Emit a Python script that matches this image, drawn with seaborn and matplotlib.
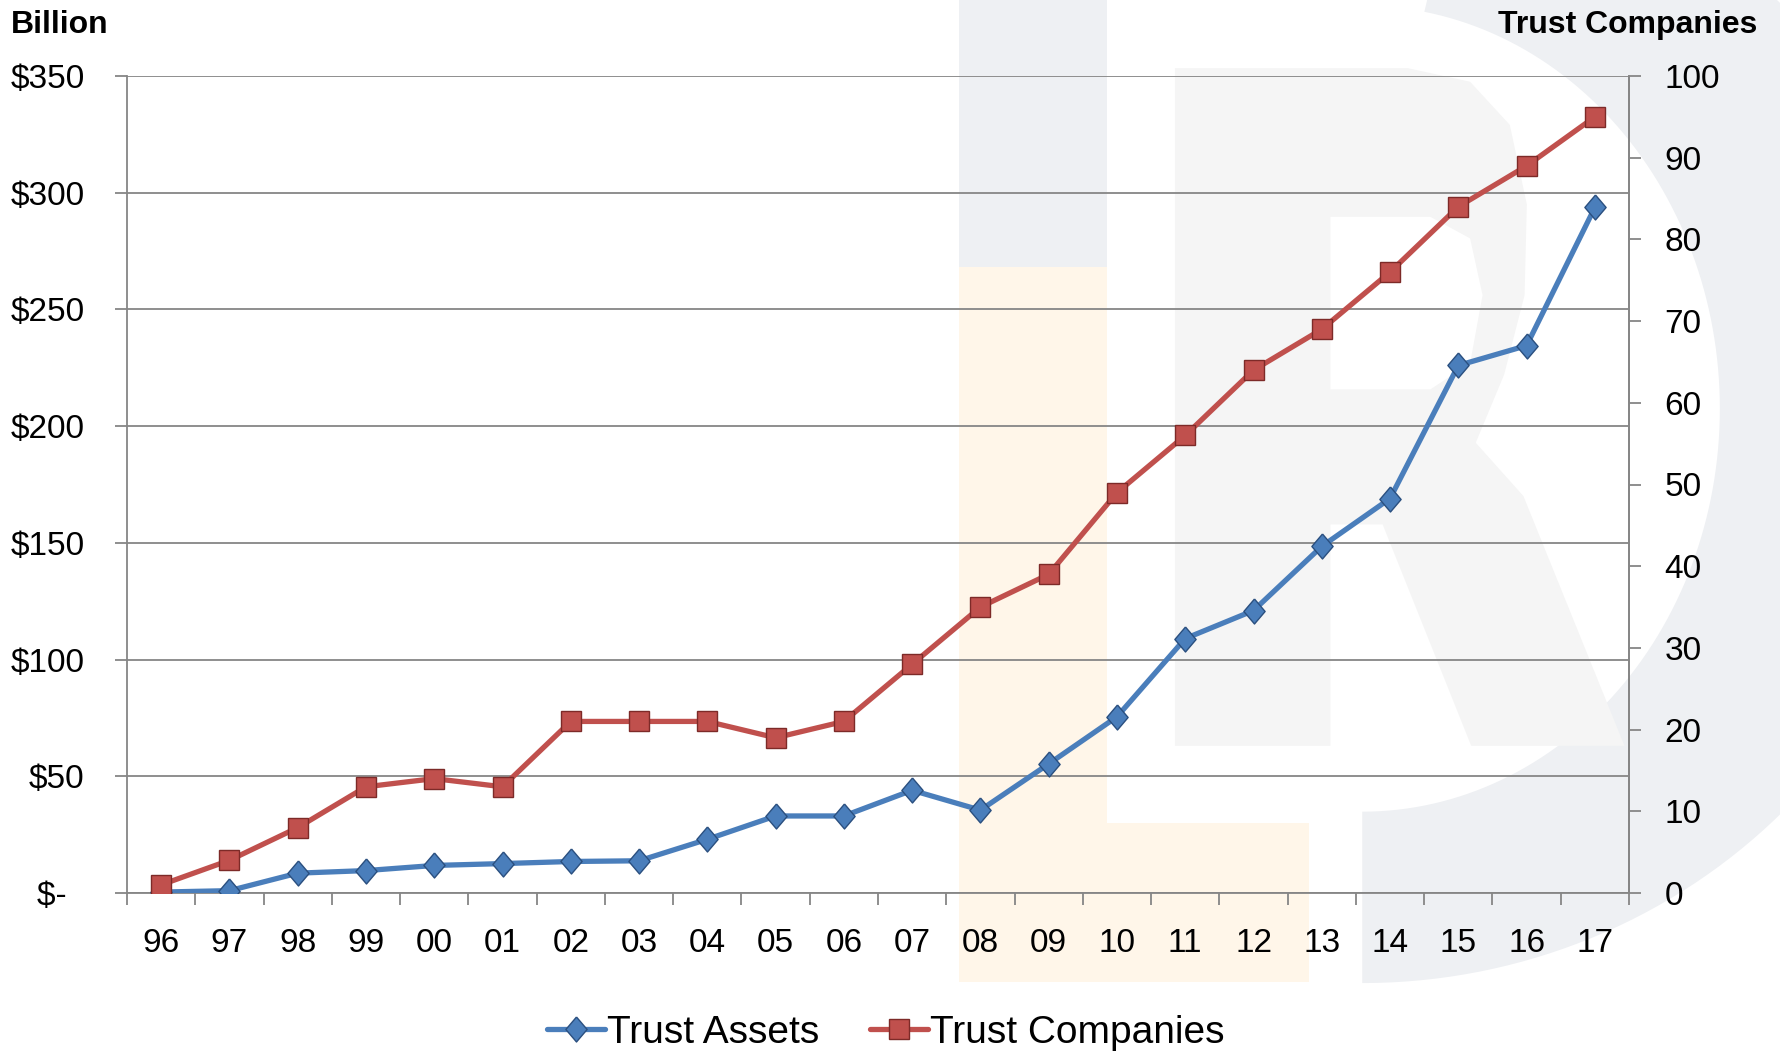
import numpy as np
import pandas as pd
import matplotlib
matplotlib.use("Agg")
import matplotlib.pyplot as plt
import seaborn as sns
from matplotlib.patches import Polygon
from matplotlib.lines import Line2D

# ---------------- data ----------------
years = ["96", "97", "98", "99", "00", "01", "02", "03", "04", "05", "06",
         "07", "08", "09", "10", "11", "12", "13", "14", "15", "16", "17"]
trust_assets = [0.4, 1.0, 8.5, 9.6, 11.8, 12.6, 13.5, 13.8, 23.0, 33.0, 33.0,
                44.0, 35.5, 55.3, 75.5, 109.0, 121.0, 148.5, 169.0, 226.0, 234.5, 293.7]
trust_companies = [1, 4, 8, 13, 14, 13, 21, 21, 21, 19, 21,
                   28, 35, 39, 49, 56, 64, 69, 76, 84, 89, 95]
left_ticks = [0, 50, 100, 150, 200, 250, 300, 350]
left_labels = ["$-  ", "$50", "$100", "$150", "$200", "$250", "$300", "$350"]
right_ticks = [0, 10, 20, 30, 40, 50, 60, 70, 80, 90, 100]
series_names = ["Trust Assets", "Trust Companies"]

df = pd.DataFrame({"year": years, "pos": np.arange(len(years)),
                   "assets": trust_assets, "companies": trust_companies})

# ---------------- style ----------------
sns.set_theme(style="white")
plt.rcParams["font.family"] = ["Liberation Sans", "DejaVu Sans"]
plt.rcParams["text.color"] = "black"
plt.rcParams["axes.labelcolor"] = "black"
plt.rcParams["xtick.color"] = "black"
plt.rcParams["ytick.color"] = "black"

W, H = 1780, 1052
fig = plt.figure(figsize=(W / 100, H / 100), dpi=100)
fig.patch.set_facecolor("white")

# ---------------- background watermark (decorative) ----------------
S = W / 1568.0
def P(x, y):
    return (x * S / 100.0, (H - y * S) / 100.0)

GRAY = "#eef0f3"
LGRAY = "#f5f5f5"
ORNG = "#fff6e9"
tr = fig.dpi_scale_trans

def poly(pts, color, z):
    fig.add_artist(Polygon([P(*p) for p in pts], closed=True, facecolor=color,
                           edgecolor="none", transform=tr, zorder=z))

# ring ("D" arc)
cx, cy = 1200, 360
th = np.linspace(-np.pi / 2, np.deg2rad(80), 120)
outer = [(cx + 520 * np.cos(t), cy - 506 * np.sin(t)) for t in th]
inner = [(cx + 315 * np.cos(t), cy - 355 * np.sin(t)) for t in th[::-1]]
poly(outer + inner, GRAY, -5)
# I bar (top gray part) and L (orange)
poly([(845, 0), (975, 0), (975, 235), (845, 235)], GRAY, -5)
poly([(845, 235), (975, 235), (975, 725), (1153, 725), (1153, 865), (845, 865)], ORNG, -5)
# R
poly([(1035, 60), (1240, 60), (1295, 72), (1330, 110), (1345, 180), (1343, 260),
      (1325, 330), (1300, 390), (1342, 437), (1431, 657), (1296, 657), (1218, 462),
      (1172, 462), (1172, 657), (1035, 657)], LGRAY, -4)
poly([(1172, 191), (1260, 191), (1295, 210), (1306, 260), (1295, 320),
      (1260, 343), (1172, 343)], "white", -3)

# ---------------- axes ----------------
left, right, top, bottom = 127, 1629, 76, 893
ax = fig.add_axes([left / W, 1 - bottom / H, (right - left) / W, (bottom - top) / H])
ax.set_facecolor("none")
ax.set_zorder(1)

GRID = "#868686"
BLUE = "#4a7ebb"
BLUE_E = "#2a4f7f"
RED = "#c0504d"
RED_E = "#7d2a28"

diamond = [(0, 1), (0.85, 0), (0, -1), (-0.85, 0), (0, 1)]

sns.lineplot(data=df, x="pos", y="assets", ax=ax, color=BLUE, linewidth=3.8,
             marker=diamond, markersize=18, markerfacecolor=BLUE,
             markeredgecolor=BLUE_E, markeredgewidth=1.0, legend=False, zorder=3)

ax.set_xlim(-0.5, len(years) - 0.5)
ax.set_ylim(0, 350)
ax.set_yticks(left_ticks)
ax.set_yticklabels(left_labels)
ax.set_xticks(np.arange(len(years) + 1) - 0.5)
ax.set_xticklabels([""] * (len(years) + 1))
ax.set_xticks(df["pos"], minor=True)
ax.set_xticklabels(years, minor=True)
ax.set_xlabel("")
ax.set_ylabel("")
ax.grid(axis="y", color=GRID, linewidth=1.3)
ax.grid(axis="x", visible=False)
ax.set_axisbelow(True)
for side in ["left", "bottom", "right"]:
    ax.spines[side].set_visible(True)
    ax.spines[side].set_color(GRID)
    ax.spines[side].set_linewidth(1.3)
ax.spines["top"].set_visible(False)

ax.tick_params(axis="y", which="major", left=True, length=8.5, width=1.3,
               color=GRID, labelsize=24, pad=22, labelcolor="black")
ax.tick_params(axis="x", which="major", bottom=True, length=8.5, width=1.3,
               color=GRID, direction="out")
ax.tick_params(axis="x", which="minor", bottom=True, length=0, labelsize=24,
               pad=25, labelcolor="black")

ax2 = ax.twinx()
ax2.set_facecolor("none")
sns.lineplot(data=df, x="pos", y="companies", ax=ax2, color=RED, linewidth=3.8,
             marker="s", markersize=15, markerfacecolor=RED,
             markeredgecolor=RED_E, markeredgewidth=1.0, legend=False, zorder=4)
ax2.set_ylim(0, 100)
ax2.set_yticks(right_ticks)
ax2.set_ylabel("")
ax2.grid(False)
for side in ["left", "bottom", "top"]:
    ax2.spines[side].set_visible(False)
ax2.spines["right"].set_color(GRID)
ax2.spines["right"].set_linewidth(1.3)
ax2.tick_params(axis="y", right=True, length=8.5, width=1.3, color=GRID,
                labelsize=24, pad=17, labelcolor="black")

# ---------------- titles ----------------
fig.text(11 / W, 1 - 33 / H, "Billion", ha="left", va="baseline",
         fontsize=23, fontweight="bold", color="black")
fig.text(1757 / W, 1 - 33 / H, "Trust Companies", ha="right", va="baseline",
         fontsize=23, fontweight="bold", color="black")

# ---------------- legend ----------------
h1 = Line2D([], [], color=BLUE, linewidth=3.8, marker=diamond, markersize=18,
            markerfacecolor=BLUE, markeredgecolor=BLUE_E, markeredgewidth=1.0)
h2 = Line2D([], [], color=RED, linewidth=3.8, marker="s", markersize=15,
            markerfacecolor=RED, markeredgecolor=RED_E, markeredgewidth=1.0)
leg = fig.legend([h1, h2], series_names, loc="center", bbox_to_anchor=(886 / W, 1 - 1033 / H),
                 ncol=2, frameon=False, fontsize=28, handlelength=1.5,
                 handletextpad=0.05, columnspacing=1.3, borderpad=0, borderaxespad=0)
for t in leg.get_texts():
    t.set_color("black")

fig.savefig("out.png", dpi=100, facecolor="white")
